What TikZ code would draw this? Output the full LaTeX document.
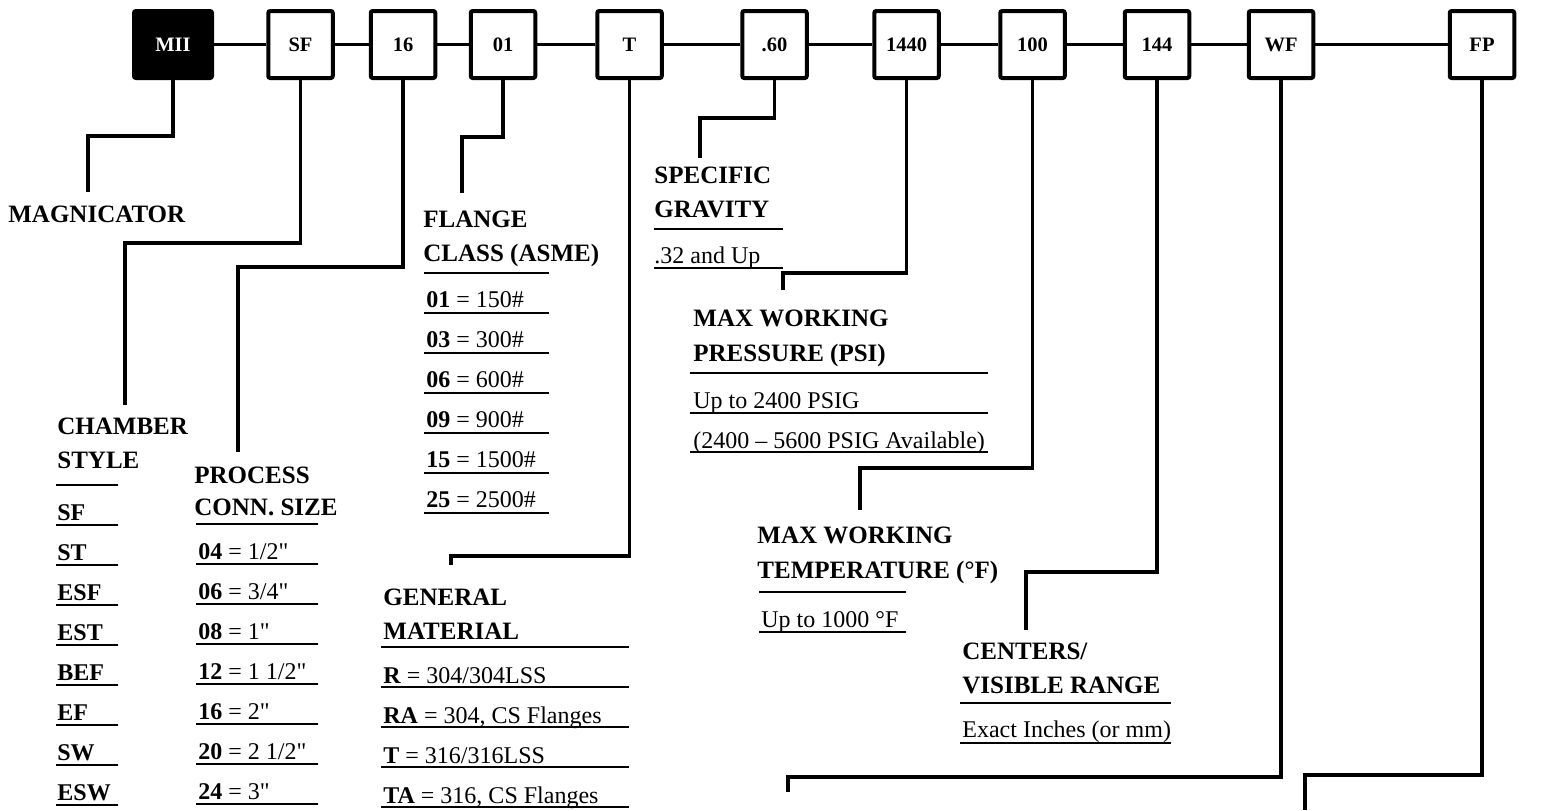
\documentclass[tikz,border=0pt]{standalone}
\usepackage{fontspec}
\setmainfont{Liberation Serif}[Ligatures=TeXOff]
\begin{document}
\begin{tikzpicture}[x=0.5pt,y=-0.5pt,
  box/.style={draw, line width=2pt, rounded corners=1pt, minimum width=32.25pt, minimum height=33.5pt, inner sep=0pt, font=\fontsize{10.25}{12}\selectfont\bfseries},
  conn/.style={line width=1.7pt},
  hdr/.style={anchor=base west, inner sep=0pt, font=\fontsize{12.5}{15}\selectfont\bfseries},
  item/.style={anchor=base west, inner sep=0pt, font=\fontsize{12}{14}\selectfont},
  bitem/.style={item, font=\fontsize{12}{14}\selectfont\bfseries},
  thickul/.style={line width=1.2pt},
  thinul/.style={line width=0.7pt}]
\useasboundingbox (0,0) rectangle (1542,810);

% top boxes
\node[box, fill=black, text=white, minimum width=39pt] (mii) at (173,44.5) {MII};
\node[box] (sf)   at (300.5,44.5) {SF};
\node[box] (n16)  at (403,44.5) {16};
\node[box] (n01)  at (503,44.5) {01};
\node[box] (nT)   at (629.5,44.5) {T};
\node[box] (n60)  at (774.5,44.5) {.60};
\node[box] (n1440) at (906.5,44.5) {1440};
\node[box] (n100) at (1032.5,44.5) {100};
\node[box] (n144) at (1157,44.5) {144};
\node[box] (nWF)  at (1281,44.5) {WF};
\node[box] (nFP)  at (1482,44.5) {FP};

\draw[conn] (mii) -- (sf);
\draw[conn] (sf) -- (n16);
\draw[conn] (n16) -- (n01);
\draw[conn] (n01) -- (nT);
\draw[conn] (nT) -- (n60);
\draw[conn] (n60) -- (n1440);
\draw[conn] (n1440) -- (n100);
\draw[conn] (n100) -- (n144);
\draw[conn] (n144) -- (nWF);
\draw[conn] (nWF) -- (nFP);

% bend and end coordinates
\coordinate (b1) at (88,136);   \coordinate (e1) at (88,192);
\coordinate (b2) at (125,243);  \coordinate (e2) at (125,405);
\coordinate (b3) at (238,267);  \coordinate (e3) at (238,452);
\coordinate (b4) at (462,137);  \coordinate (e4) at (462,193);
\coordinate (b5) at (451,556);  \coordinate (e5) at (451,565);
\coordinate (b6) at (700,118);  \coordinate (e6) at (700,158);
\coordinate (b7) at (783,273);  \coordinate (e7) at (783,290);
\coordinate (b8) at (860,468);  \coordinate (e8) at (860,510);
\coordinate (b9) at (1026,572); \coordinate (e9) at (1026,630);
\coordinate (b10) at (788,777); \coordinate (e10) at (788,792);
\coordinate (b11) at (1305,775); \coordinate (e11) at (1305,810);

\draw[conn] (mii.south) |- (b1) -- (e1);
\draw[conn] (sf.south) |- (b2) -- (e2);
\draw[conn] (n16.south) |- (b3) -- (e3);
\draw[conn] (n01.south) |- (b4) -- (e4);
\draw[conn] (nT.south) |- (b5) -- (e5);
\draw[conn] (n60.south) |- (b6) -- (e6);
\draw[conn] (n1440.south) |- (b7) -- (e7);
\draw[conn] (n100.south) |- (b8) -- (e8);
\draw[conn] (n144.south) |- (b9) -- (e9);
\draw[conn] (nWF.south) |- (b10) -- (e10);
\draw[conn] (nFP.south) |- (b11) -- (e11);

% MAGNICATOR
\node[hdr] (magn) at (8,222) {MAGNICATOR};

% CHAMBER STYLE
\node[hdr] (cham1) at (57,434) {CHAMBER};
\node[hdr] (cham2) at (57,468) {STYLE};
\draw[thickul] (56,485) -- (118,485);
\foreach \t [count=\i from 0] in {SF,ST,ESF,EST,BEF,EF,SW,ESW} {
  \node[bitem] (ch\i) at (57,{520+40*\i}) {\t};
  \draw[thinul] (56,{525+40*\i}) -- (118,{525+40*\i});
}

% PROCESS CONN. SIZE
\node[hdr] (proc1) at (194,483) {PROCESS};
\node[hdr] (proc2) at (194,515) {CONN. SIZE};
\draw[thickul] (196,524) -- (318,524);
\foreach \t [count=\i from 0] in {{\textbf{04} = 1/2"},{\textbf{06} = 3/4"},{\textbf{08} = 1"},{\textbf{12} = 1 1/2"},{\textbf{16} = 2"},{\textbf{20} = 2 1/2"},{\textbf{24} = 3"}} {
  \node[item] (pc\i) at (198,{559+40*\i}) {\t};
  \draw[thinul] (196,{564+40*\i}) -- (318,{564+40*\i});
}

% FLANGE CLASS
\node[hdr] (fl1) at (423,227) {FLANGE};
\node[hdr] (fl2) at (423,261) {CLASS (ASME)};
\draw[thickul] (424,273) -- (549,273);
\foreach \t [count=\i from 0] in {{\textbf{01} = 150\#},{\textbf{03} = 300\#},{\textbf{06} = 600\#},{\textbf{09} = 900\#},{\textbf{15} = 1500\#},{\textbf{25} = 2500\#}} {
  \node[item] (fc\i) at (426,{307+40*\i}) {\t};
  \draw[thinul] (424,{313+40*\i}) -- (549,{313+40*\i});
}

% GENERAL MATERIAL
\node[hdr] (gm1) at (383,605) {GENERAL};
\node[hdr] (gm2) at (383,639) {MATERIAL};
\draw[thickul] (381,647) -- (629,647);
\foreach \t [count=\i from 0] in {{\textbf{R} = 304/304LSS},{\textbf{RA} = 304, CS Flanges},{\textbf{T} = 316/316LSS},{\textbf{TA} = 316, CS Flanges}} {
  \node[item] (gc\i) at (383,{683+40*\i}) {\t};
  \draw[thinul] (381,{687+40*\i}) -- (629,{687+40*\i});
}

% SPECIFIC GRAVITY
\node[hdr] (sg1) at (654,183) {SPECIFIC};
\node[hdr] (sg2) at (654,217) {GRAVITY};
\draw[thickul] (654,229) -- (783,229);
\node[item] (sgv) at (654,263) {.32 and Up};
\draw[thinul] (654,268) -- (783,268);

% MAX WORKING PRESSURE
\node[hdr] (mp1) at (693,326) {MAX WORKING};
\node[hdr] (mp2) at (693,361) {PRESSURE (PSI)};
\draw[thickul] (690,373) -- (988,373);
\node[item] (mpv1) at (693,408) {Up to 2400 PSIG};
\draw[thinul] (690,413) -- (988,413);
\node[item] (mpv2) at (693,448) {(2400 – 5600 PSIG Available)};
\draw[thinul] (690,452) -- (988,452);

% MAX WORKING TEMPERATURE
\node[hdr] (mt1) at (757,543) {MAX WORKING};
\node[hdr] (mt2) at (757,578) {TEMPERATURE (°F)};
\draw[thickul] (759,592) -- (906,592);
\node[item] (mtv) at (761,627) {Up to 1000 °F};
\draw[thinul] (759,632) -- (906,632);

% CENTERS / VISIBLE RANGE
\node[hdr] (cv1) at (962,659) {CENTERS/};
\node[hdr] (cv2) at (962,693) {VISIBLE RANGE};
\draw[thickul] (960,703) -- (1171,703);
\node[item] (cvv) at (962,737) {Exact Inches (or mm)};
\draw[thinul] (960,743) -- (1171,743);
\end{tikzpicture}
\end{document}
